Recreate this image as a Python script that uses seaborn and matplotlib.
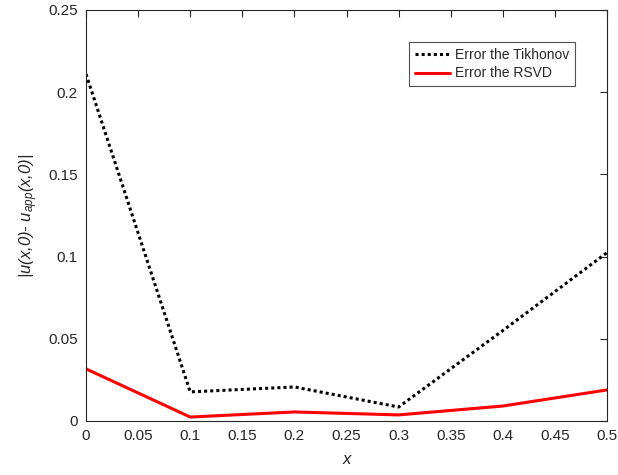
import matplotlib
matplotlib.use("Agg")
import matplotlib.pyplot as plt
import seaborn as sns
import pandas as pd

x_vals = [0.0, 0.1, 0.2, 0.3, 0.4, 0.5]
err_tikhonov = [0.211, 0.0177, 0.0207, 0.0085, 0.055, 0.1024]
err_rsvd = [0.0317, 0.0024, 0.0055, 0.0037, 0.0091, 0.0189]
series_names = ["Error the Tikhonov", "Error the RSVD"]

df = pd.DataFrame({
    "x": x_vals * 2,
    "err": err_tikhonov + err_rsvd,
    "method": [series_names[0]] * len(x_vals) + [series_names[1]] * len(x_vals),
})

sns.set_style("white")
plt.rcParams["font.family"] = ["Liberation Sans", "DejaVu Sans"]
plt.rcParams["mathtext.fontset"] = "custom"
plt.rcParams["mathtext.it"] = "Liberation Sans:italic"
plt.rcParams["mathtext.rm"] = "Liberation Sans:italic"

fig = plt.figure(figsize=(6.18, 4.75), dpi=100)
ax = fig.add_axes([0.1392, 0.1137, 0.843, 0.8653])

sns.lineplot(data=df, x="x", y="err", hue="method", style="method",
             palette={series_names[0]: "black", series_names[1]: "#ff0000"},
             dashes={series_names[0]: (1, 1), series_names[1]: ""},
             linewidth=2.2, ax=ax)

ax.set_xlim(0, 0.5)
ax.set_ylim(0, 0.25)
ax.set_xticks([0, 0.05, 0.1, 0.15, 0.2, 0.25, 0.3, 0.35, 0.4, 0.45, 0.5])
ax.set_xticklabels(["0", "0.05", "0.1", "0.15", "0.2", "0.25", "0.3", "0.35", "0.4", "0.45", "0.5"])
ax.set_yticks([0, 0.05, 0.1, 0.15, 0.2, 0.25])
ax.set_yticklabels(["0", "0.05", "0.1", "0.15", "0.2", "0.25"])

gray = "#262626"
for sp in ax.spines.values():
    sp.set_color(gray)
    sp.set_linewidth(0.8)
ax.tick_params(direction="in", length=5, width=0.8, colors=gray, labelsize=11,
               top=True, right=True, pad=6)

ax.set_xlabel("x", fontsize=12, fontstyle="italic", color=gray, labelpad=6)
ax.set_ylabel("|u(x,0)- $u_{app}$(x,0)|", fontsize=12, fontstyle="italic",
              color=gray, labelpad=6)

leg = ax.legend(loc="upper right", bbox_to_anchor=(0.9386, 0.922), borderaxespad=0,
                fontsize=10, frameon=True, fancybox=False, edgecolor=gray,
                handlelength=2.5, handletextpad=0.4, borderpad=0.4,
                labelspacing=0.35)
leg.get_frame().set_linewidth(0.8)

plt.savefig("out.png", dpi=100)
plt.close()
